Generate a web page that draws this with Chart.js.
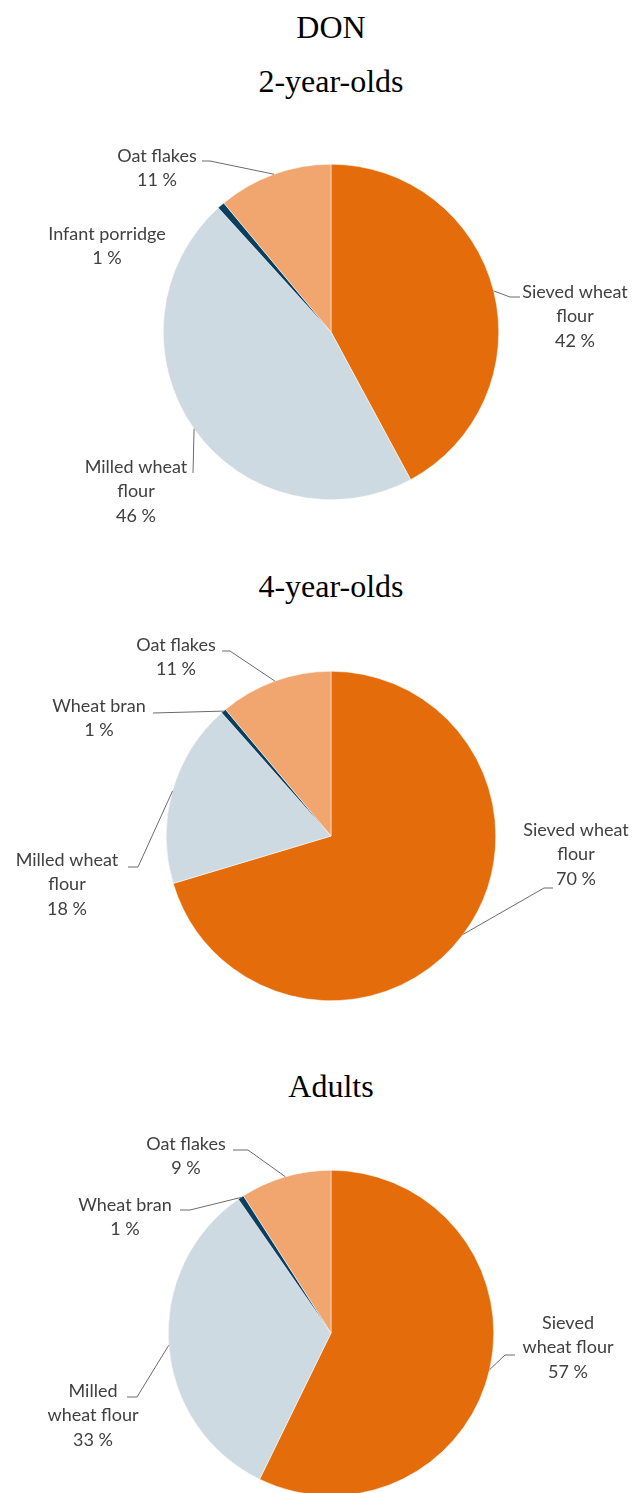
<!DOCTYPE html>
<html>
<head>
<meta charset="utf-8">
<script src="https://cdn.jsdelivr.net/npm/chart.js@4.4.1/dist/chart.umd.min.js"></script>
<style>
  html, body { margin: 0; padding: 0; background: #fff; overflow: hidden; }
  #page { position: relative; width: 636px; height: 1493px; overflow: hidden; }
  .title { position: absolute; left: 0; width: 662px; text-align: center;
           font-family: 'Liberation Serif', 'Times New Roman', serif; font-size: 32px;
           line-height: 36px; color: #000; }
  canvas { position: absolute; left: 0; }
</style>
</head>
<body>
<div id="page">
  <div class="title" style="top:9px">DON</div>
  <div class="title" id="t0" style="top:63px"></div>
  <div class="title" id="t1" style="top:568px"></div>
  <div class="title" id="t2" style="top:1068px"></div>
  <canvas id="pie0" width="636" height="440" style="top:110px"></canvas>
  <canvas id="pie1" width="636" height="430" style="top:610px"></canvas>
  <canvas id="pie2" width="636" height="400" style="top:1110px"></canvas>
</div>
<script>
// data
const groupTitles = ['2-year-olds', '4-year-olds', 'Adults'];

const foods2yr = [['Sieved wheat', 'flour'], ['Milled wheat', 'flour'], ['Infant porridge'], ['Oat flakes']];
const share2yr = [42, 46, 0.7, 11];

const foods4yr = [['Sieved wheat', 'flour'], ['Milled wheat', 'flour'], ['Wheat bran'], ['Oat flakes']];
const share4yr = [70, 18, 0.5, 11];

const foodsAdults = [['Sieved', 'wheat flour'], ['Milled', 'wheat flour'], ['Wheat bran'], ['Oat flakes']];
const shareAdults = [57, 33, 0.6, 9];

const sliceColors = ['#E46C0A', '#CDDAE1', '#0B3F5F', '#F0A66E'];

// label placement (page pixels): text centre of first line, leader bend points
const labelSpots = [
  [
    { x: 575, y: 292, leader: [[510, 297], [520, 297]] },
    { x: 136, y: 467, leader: [[193, 473]] },
    { x: 107, y: 234, leader: null },
    { x: 157, y: 156, leader: [[210, 161], [202, 161]] }
  ],
  [
    { x: 576, y: 830, leader: [[544, 888], [553, 888]] },
    { x: 67, y: 860, leader: [[138, 867], [128, 867]] },
    { x: 99, y: 706, leader: [[153, 713]] },
    { x: 176, y: 645, leader: [[230, 651], [222, 651]] }
  ],
  [
    { x: 568, y: 1323, leader: [[505, 1355], [515, 1355]] },
    { x: 93, y: 1391, leader: [[137, 1397], [127, 1397]] },
    { x: 125, y: 1205, leader: [[190, 1210], [180, 1210]] },
    { x: 186, y: 1144, leader: [[248, 1150], [233, 1150]] }
  ]
];

const canvasTops = [110, 610, 1110];
const pads = [
  { left: 163, right: 137, top: 54, bottom: 50 },
  { left: 166, right: 140, top: 61, bottom: 39 },
  { left: 168, right: 142, top: 60, bottom: 14 }
];

const leaderLabels = {
    id: 'leaderLabels',
    afterDatasetsDraw(chart, args, opts) {
        const ctx = chart.ctx;
        const meta = chart.getDatasetMeta(0);
        const vals = chart.data.datasets[0].data;
        const total = vals.reduce((a, b) => a + b, 0);
        ctx.save();
        meta.data.forEach((arc, i) => {
            const p = arc.getProps(['x', 'y', 'startAngle', 'endAngle', 'outerRadius'], true);
            const mid = (p.startAngle + p.endAngle) / 2;
            const ax = p.x + Math.cos(mid) * p.outerRadius;
            const ay = p.y + Math.sin(mid) * p.outerRadius;
            const spot = opts.spots[i];
            if (spot.leader) {
                ctx.beginPath();
                ctx.moveTo(ax, ay);
                spot.leader.forEach(pt => ctx.lineTo(pt[0], pt[1] - opts.top));
                ctx.strokeStyle = '#6b6b6b';
                ctx.lineWidth = 1;
                ctx.stroke();
            }
            const lines = [].concat(chart.data.labels[i], Math.round(vals[i] / total * 100) + ' %');
            ctx.fillStyle = '#404040';
            ctx.font = '18px Lato';
            ctx.textAlign = 'center';
            ctx.textBaseline = 'middle';
            lines.forEach((t, k) => ctx.fillText(t, spot.x, spot.y - opts.top + k * 24.5));
        });
        ctx.restore();
    }
};

function drawPie(n, foods, shares) {
    document.getElementById('t' + n).innerText = groupTitles[n];
    new Chart(document.getElementById('pie' + n), {
        type: 'pie',
        data: {
            labels: foods,
            datasets: [{
                data: shares,
                backgroundColor: sliceColors,
                borderColor: '#ffffff',
                borderWidth: 0.5
            }]
        },
        options: {
            responsive: false,
            animation: false,
            layout: { padding: pads[n] },
            plugins: {
                legend: { display: false },
                tooltip: { enabled: false },
                leaderLabels: { spots: labelSpots[n], top: canvasTops[n] }
            }
        },
        plugins: [leaderLabels]
    });
}

document.fonts.load('18px Lato').then(() => {
    drawPie(0, foods2yr, share2yr);
    drawPie(1, foods4yr, share4yr);
    drawPie(2, foodsAdults, shareAdults);
});
</script>
</body>
</html>
